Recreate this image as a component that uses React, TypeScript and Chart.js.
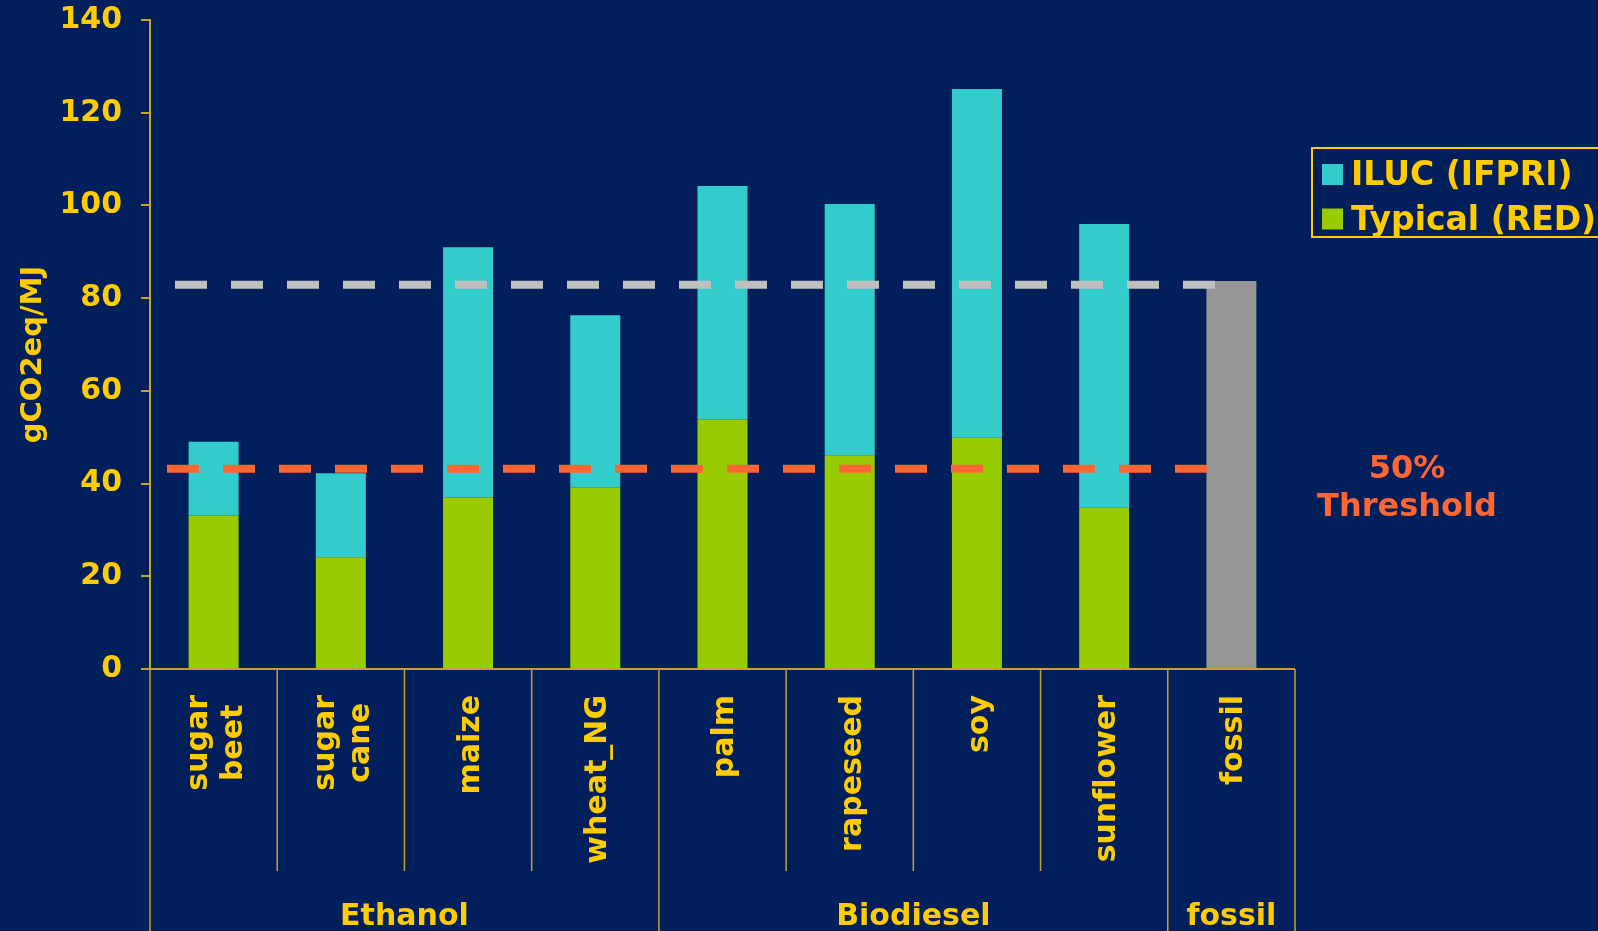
import React, { useEffect, useRef } from 'react';
import { Chart, registerables } from 'chart.js';

Chart.register(...registerables);

// ---- data ----
const categories: string[][] = [
  ['sugar', 'beet'],
  ['sugar', 'cane'],
  ['maize'],
  ['wheat_NG'],
  ['palm'],
  ['rapeseed'],
  ['soy'],
  ['sunflower'],
  ['fossil'],
];
const groupLabels = ['Ethanol', 'Biodiesel', 'fossil'];
const groupSizes = [4, 4, 1];

const typicalRED: (number | null)[] = [33.1, 24.1, 37.0, 39.1, 53.8, 46.1, 49.9, 34.8, null];
const ilucIFPRI: (number | null)[] = [15.9, 18.1, 54.0, 37.2, 50.4, 54.2, 75.2, 61.2, null];
const fossilValue: (number | null)[] = [null, null, null, null, null, null, null, null, 83.7];

const yMin = 0;
const yMax = 140;
const yStep = 20;

const fossilComparator = 82.9;
const thresholdValue = 43.2;
const thresholdText = ['50%', 'Threshold'];

const seriesNames = { iluc: 'ILUC (IFPRI)', typical: 'Typical (RED)', fossil: 'fossil' };
const yTitle = 'gCO2eq/MJ';

// ---- styles ----
const BG = '#001F5B';
const YELLOW = '#FFCC00';
const GOLD = '#C4A52A';
const CYAN = '#33CCCC';
const GREEN = '#99CC00';
const GREY = '#969696';
const LIGHTGREY = '#C0C0C0';
const ORANGE = '#FF6633';
const FONT = '"DejaVu Sans", Verdana, sans-serif';

const overlayPlugin = {
  id: 'overlay',
  beforeDraw(chart: any) {
    const ctx = chart.ctx;
    ctx.save();
    ctx.fillStyle = BG;
    ctx.fillRect(0, 0, chart.width, chart.height);
    ctx.restore();
  },
  afterDatasetsDraw(chart: any) {
    const ctx = chart.ctx;
    const y = chart.scales.y;
    const area = chart.chartArea;
    const lines = [
      { v: fossilComparator, color: LIGHTGREY, start: area.left + 25 },
      { v: thresholdValue, color: ORANGE, start: area.left + 17 },
    ];
    ctx.save();
    ctx.lineWidth = 8;
    ctx.lineCap = 'butt';
    ctx.setLineDash([32, 24]);
    for (const l of lines) {
      const py = y.getPixelForValue(l.v);
      ctx.strokeStyle = l.color;
      ctx.beginPath();
      ctx.moveTo(l.start, py);
      ctx.lineTo(l.start + 1040, py);
      ctx.stroke();
    }
    ctx.restore();
  },
  afterDraw(chart: any) {
    const ctx = chart.ctx;
    const x = chart.scales.x;
    const y = chart.scales.y;
    const area = chart.chartArea;
    const n = categories.length;
    const catW = (x.getPixelForValue(n - 1) - x.getPixelForValue(0)) / (n - 1);
    const bottom = area.bottom;
    ctx.save();
    try {
      (ctx as any).textRendering = 'optimizeSpeed';
    } catch (e) {}

    // x axis line
    ctx.strokeStyle = GOLD;
    ctx.lineWidth = 2;
    ctx.beginPath();
    ctx.moveTo(area.left - 9, bottom);
    ctx.lineTo(area.right, bottom);
    ctx.stroke();

    // dividers
    const groupEdges: number[] = [0];
    let acc = 0;
    for (const s of groupSizes) {
      acc += s;
      groupEdges.push(acc);
    }
    ctx.lineWidth = 1.5;
    for (let i = 0; i <= n; i++) {
      const px = x.getPixelForValue(0) - catW / 2 + i * catW;
      const isGroup = groupEdges.includes(i);
      ctx.beginPath();
      ctx.moveTo(px, bottom);
      ctx.lineTo(px, isGroup ? chart.height : bottom + 202);
      ctx.stroke();
    }

    // y title
    ctx.fillStyle = YELLOW;
    ctx.font = `bold 29px ${FONT}`;
    ctx.textAlign = 'center';
    ctx.textBaseline = 'middle';
    ctx.save();
    ctx.translate(33, (area.top + area.bottom) / 2 + 10);
    ctx.rotate(-Math.PI / 2);
    ctx.fillText(yTitle, 0, 0);
    ctx.restore();

    // category labels (rotated)
    ctx.font = `bold 30px ${FONT}`;
    ctx.textBaseline = 'middle';
    ctx.textAlign = 'right';
    const lh = 35;
    categories.forEach((lines, i) => {
      const px = x.getPixelForValue(i);
      const widths = lines.map((t) => ctx.measureText(t).width);
      const maxW = Math.max(...widths);
      ctx.save();
      ctx.translate(px + 3, bottom + 26);
      ctx.rotate(-Math.PI / 2);
      lines.forEach((t, j) => {
        const yy = (j - (lines.length - 1) / 2) * lh;
        ctx.fillText(t, -(maxW - widths[j]) / 2, yy);
      });
      ctx.restore();
    });

    // group labels
    ctx.textAlign = 'center';
    ctx.textBaseline = 'alphabetic';
    for (let g = 0; g < groupLabels.length; g++) {
      const x0 = x.getPixelForValue(0) - catW / 2 + groupEdges[g] * catW;
      const x1 = x.getPixelForValue(0) - catW / 2 + groupEdges[g + 1] * catW;
      ctx.fillText(groupLabels[g], (x0 + x1) / 2, bottom + 256);
    }

    // legend
    const lx = area.right + 17;
    ctx.strokeStyle = YELLOW;
    ctx.lineWidth = 2;
    ctx.strokeRect(lx, 148, 400, 89);
    const legendItems = [
      { label: seriesNames.iluc, color: CYAN, base: 185 },
      { label: seriesNames.typical, color: GREEN, base: 229.5 },
    ];
    ctx.font = `bold 33px ${FONT}`;
    ctx.textAlign = 'left';
    for (const it of legendItems) {
      ctx.fillStyle = it.color;
      ctx.fillRect(lx + 10, it.base - 21, 21, 21);
      ctx.fillStyle = YELLOW;
      ctx.fillText(it.label, lx + 39, it.base);
    }

    // threshold text
    const ty = y.getPixelForValue(thresholdValue);
    ctx.fillStyle = ORANGE;
    ctx.textAlign = 'center';
    ctx.font = `bold 32px ${FONT}`;
    ctx.fillText(thresholdText[0], area.right + 112, ty + 9);
    ctx.fillText(thresholdText[1], area.right + 112, ty + 47);

    ctx.restore();
  },
};

export default function App() {
  const ref = useRef<HTMLCanvasElement | null>(null);
  useEffect(() => {
    document.body.style.margin = '0';
    document.body.style.background = BG;
    const canvas = ref.current;
    if (!canvas) return;
    const chart = new Chart(canvas, {
      type: 'bar',
      data: {
        labels: categories.map((c) => c.join(' ')),
        datasets: [
          { label: seriesNames.typical, data: typicalRED, backgroundColor: GREEN, borderWidth: 0 },
          { label: seriesNames.iluc, data: ilucIFPRI, backgroundColor: CYAN, borderWidth: 0 },
          { label: seriesNames.fossil, data: fossilValue, backgroundColor: GREY, borderWidth: 0 },
        ] as any,
      },
      options: {
        animation: false,
        responsive: false,
        events: [],
        datasets: { bar: { barPercentage: 0.393, categoryPercentage: 1 } } as any,
        layout: { padding: { left: 0, top: 20, right: 303, bottom: 262 } },
        plugins: { legend: { display: false }, tooltip: { enabled: false }, title: { display: false } },
        scales: {
          x: { stacked: true, display: false },
          y: {
            stacked: true,
            min: yMin,
            max: yMax,
            afterFit: (s: any) => {
              s.width = 150;
              s.paddingTop = 0;
              s.paddingBottom = 0;
            },
            ticks: {
              stepSize: yStep,
              color: YELLOW,
              padding: 19,
              font: { family: FONT, weight: 'bold', size: 30 },
            },
            grid: { drawOnChartArea: false, drawTicks: true, tickLength: 9, color: GOLD, lineWidth: 2 },
            border: { display: true, color: GOLD, width: 2 },
            title: { display: false },
          },
        },
      },
      plugins: [overlayPlugin],
    } as any);
    return () => chart.destroy();
  }, []);
  return (
    <div style={{ width: 1598, height: 931, background: BG }}>
      <canvas ref={ref} width={1598} height={931} style={{ display: 'block' }} />
    </div>
  );
}
